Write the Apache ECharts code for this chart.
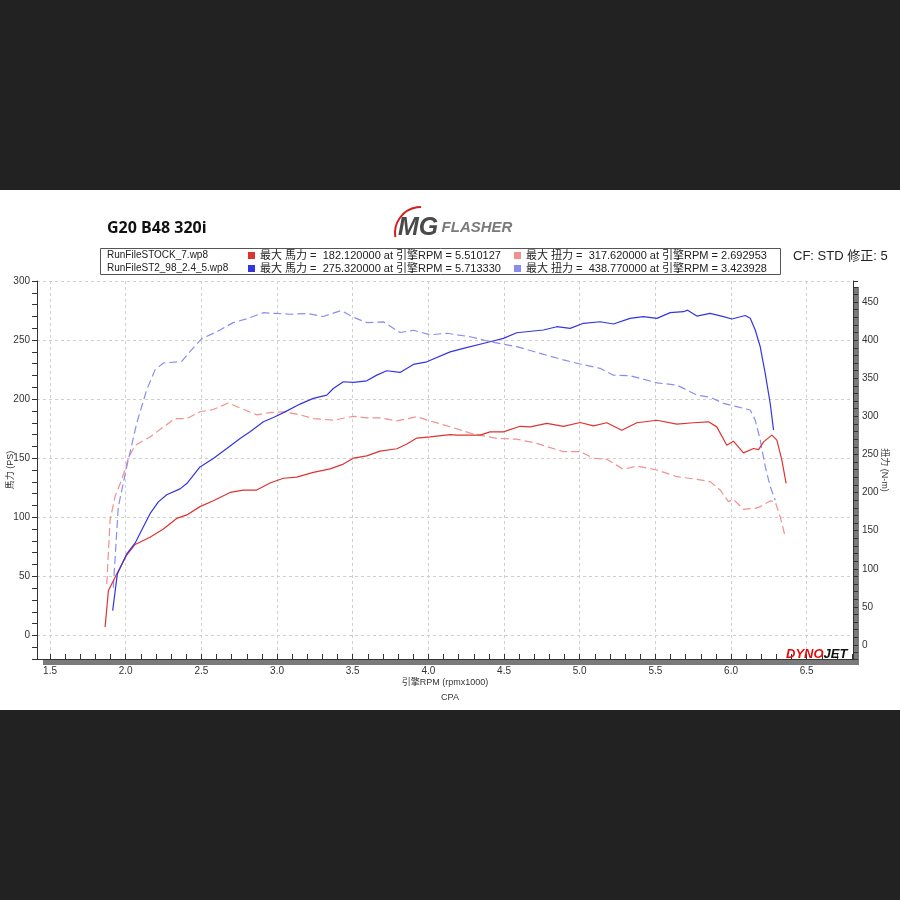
<!DOCTYPE html>
<html><head><meta charset="utf-8">
<script src="https://cdn.jsdelivr.net/npm/echarts/dist/echarts.min.js"></script>
<style>html,body{margin:0;padding:0;background:#222;}#c{width:900px;height:900px;}</style>
</head><body><div id="c"></div>
<script>
// ---- data (rpm x1000, value) ----
const stockHp = [[1.864,7],[1.886,38],[1.941,52],[2.007,68],[2.062,77],[2.161,83],[2.249,90],[2.337,99],[2.404,102],[2.491,109],[2.579,114],[2.69,121],[2.778,123],[2.866,123],[2.954,129],[3.042,133],[3.13,134],[3.24,138],[3.351,141],[3.438,145],[3.505,150],[3.593,152],[3.681,156],[3.792,158],[3.858,162],[3.924,167],[4.011,168],[4.144,170],[4.188,169.5],[4.342,169.5],[4.408,172.3],[4.496,172.3],[4.606,177],[4.673,176.5],[4.783,179.4],[4.893,177],[5.003,180.2],[5.091,177.4],[5.179,180],[5.278,173.7],[5.378,180],[5.51,182.1],[5.642,178.8],[5.752,180],[5.851,180.8],[5.906,176.5],[5.972,161],[6.016,164.4],[6.082,154.5],[6.149,158.2],[6.182,157.3],[6.215,163.8],[6.27,169.5],[6.303,165.3],[6.336,148.3],[6.364,128.6]];
const stockTq = [[1.875,80],[1.897,164],[1.93,195],[1.974,217],[2.018,245],[2.062,262],[2.161,273],[2.249,286],[2.326,297],[2.404,297],[2.491,306],[2.579,309],[2.678,317.6],[2.756,311],[2.866,302],[2.954,305],[3.042,306],[3.152,302],[3.24,297],[3.372,295],[3.505,300],[3.593,298],[3.681,298],[3.792,294],[3.924,299.5],[4.011,294],[4.144,286.4],[4.298,276.8],[4.452,271.2],[4.584,270],[4.716,264.6],[4.893,253.6],[5.003,253.6],[5.091,245],[5.179,243.6],[5.289,230.5],[5.378,234.8],[5.51,229.6],[5.642,220.8],[5.774,217.4],[5.862,214.3],[5.928,203.4],[5.983,188],[6.016,191.2],[6.082,178],[6.16,179.3],[6.193,181.5],[6.259,189],[6.292,188],[6.325,168],[6.358,142]];
const tunedHp = [[1.914,21],[1.945,52],[2.007,69],[2.062,78],[2.117,92],[2.161,103],[2.216,113],[2.271,119],[2.359,124],[2.404,128.5],[2.491,142.6],[2.579,149.7],[2.668,158.2],[2.756,166.7],[2.822,172.3],[2.91,180.8],[2.976,184.5],[3.053,189.2],[3.152,195.8],[3.24,200.6],[3.329,203.4],[3.372,209],[3.438,214.7],[3.505,214.1],[3.593,215.5],[3.659,220.3],[3.725,224],[3.813,222.6],[3.901,229.4],[3.99,231.6],[4.144,240],[4.232,243],[4.408,248.6],[4.496,251.4],[4.584,256.2],[4.76,258.5],[4.849,261.3],[4.937,259.9],[5.025,264.2],[5.135,265.5],[5.223,263.6],[5.333,268.4],[5.421,269.8],[5.51,268.4],[5.598,273.2],[5.686,274],[5.713,275.3],[5.774,270.3],[5.862,272.6],[5.95,269.8],[6.006,267.8],[6.094,270.8],[6.127,268.4],[6.16,258.5],[6.193,244.3],[6.226,221.8],[6.259,196.3],[6.281,173.7]];
const tunedTq = [[1.918,75],[1.951,181],[2.007,234],[2.073,291],[2.139,335],[2.194,361],[2.249,370],[2.37,372],[2.425,385],[2.503,402],[2.602,411],[2.711,423],[2.8,428],[2.91,436],[2.998,435],[3.086,434],[3.197,435],[3.306,431],[3.424,438.8],[3.505,430],[3.593,423],[3.703,424],[3.813,410],[3.901,413],[4.011,407],[4.122,409],[4.276,404.5],[4.408,398],[4.584,391.4],[4.738,382.7],[4.893,374],[5.003,368.7],[5.135,363],[5.223,354],[5.333,353.3],[5.51,344],[5.642,341],[5.774,328],[5.862,325],[5.95,317],[6.038,312.7],[6.127,308.3],[6.16,295],[6.193,269],[6.226,234],[6.259,208],[6.292,190]];

const seriesNames = ['STOCK 馬力', 'STOCK 扭力', 'ST2 馬力', 'ST2 扭力'];
const fileNames = ['RunFileSTOCK_7.wp8', 'RunFileST2_98_2.4_5.wp8'];
const legendTexts = [
  '最大 馬力 =  182.120000 at 引擎RPM = 5.510127',
  '最大 扭力 =  317.620000 at 引擎RPM = 2.692953',
  '最大 馬力 =  275.320000 at 引擎RPM = 5.713330',
  '最大 扭力 =  438.770000 at 引擎RPM = 3.423928'
];
const titleText = 'G20 B48 320i';
const cfText = 'CF: STD 修正: 5';
const xName = '引擎RPM (rpmx1000)';
const hpName = '馬力 (PS)';
const tqName = '扭力 (N-m)';
const subText = 'CPA';

const xMin = 1.414, xMax = 6.806;
const hpMin = -20, hpMax = 300;
const tqMin = -18.4, tqMax = 477.6;

const FONT = "'Liberation Sans','Noto Sans CJK TC',sans-serif";
const colors = ['#dd3333', '#f09090', '#3535dd', '#8c8cee'];

function onStep(v, step) { return Math.abs(v / step - Math.round(v / step)) < 1e-6; }

const axisText = { color: '#333', fontSize: 10, fontFamily: FONT };
const gridLine = { show: true, lineStyle: { type: [3, 3], color: '#cfcfcf', width: 1 } };

const chart = echarts.init(document.getElementById('c'), null, { renderer: 'canvas' });

const legendMap = {};
seriesNames.forEach((n, i) => legendMap[n] = legendTexts[i]);

function mkLegend(left, names) {
  return {
    left: left, top: 250, orient: 'vertical', icon: 'rect',
    itemWidth: 7, itemHeight: 7, itemGap: 2, padding: 0,
    selectedMode: false, data: names,
    formatter: n => legendMap[n],
    textStyle: { fontSize: 11, lineHeight: 11, color: '#222', fontFamily: FONT, padding: 0 }
  };
}

const option = {
  backgroundColor: '#222',
  animation: false,
  graphic: [
    { type: 'rect', z: -100, shape: { x: 0, y: 190, width: 900, height: 520 }, style: { fill: '#ffffff' } },
    { type: 'text', z: 100, x: 107, y: 228, style: { text: titleText, fill: '#111', font: "bold 16px 'Open Sans', sans-serif", verticalAlign: 'middle' } },
    { type: 'arc', z: 100, shape: { cx: 421, cy: 233, r: 26, startAngle: Math.PI * 0.95, endAngle: Math.PI * 1.5 }, style: { stroke: '#d42020', lineWidth: 2, fill: null } },
    { type: 'text', z: 100, x: 398, y: 228, style: {
        text: '{m|MG} {f|FLASHER}', verticalAlign: 'middle',
        rich: {
          m: { fontSize: 25, fontWeight: 900, fontStyle: 'italic', fill: '#4a4a4a', color: '#4a4a4a', fontFamily: "'Liberation Sans', sans-serif" },
          f: { fontSize: 15, fontWeight: 'bold', fontStyle: 'italic', fill: '#7a7a7a', color: '#7a7a7a', fontFamily: "'Liberation Sans', sans-serif" }
        } } },
    { type: 'rect', z: 100, shape: { x: 100.5, y: 248.5, width: 680, height: 26 }, style: { fill: null, stroke: '#555', lineWidth: 1 } },
    { type: 'text', z: 100, x: 107, y: 255, style: { text: fileNames[0], fill: '#222', font: "10px " + FONT, verticalAlign: 'middle' } },
    { type: 'text', z: 100, x: 107, y: 268, style: { text: fileNames[1], fill: '#222', font: "10px " + FONT, verticalAlign: 'middle' } },
    { type: 'text', z: 100, x: 793, y: 256, style: { text: cfText, fill: '#222', font: "13px " + FONT, verticalAlign: 'middle' } },
    { type: 'text', z: 100, x: 450, y: 698, style: { text: subText, fill: '#333', font: "9px " + FONT, align: 'center', verticalAlign: 'middle' } },
    { type: 'text', z: 100, x: 786, y: 654, style: {
        text: '{a|DYNO}{b|JET}', verticalAlign: 'middle',
        rich: {
          a: { fontSize: 13, fontWeight: 900, fontStyle: 'italic', fill: '#e01010', color: '#e01010', fontFamily: "'Liberation Sans', sans-serif" },
          b: { fontSize: 13, fontWeight: 900, fontStyle: 'italic', fill: '#111', color: '#111', fontFamily: "'Liberation Sans', sans-serif" }
        } } }
  ],
  grid: {
    left: 37, right: 47, top: 281, bottom: 241, show: true,
    containLabel: false, outerBoundsMode: 'none',
    backgroundColor: '#ffffff', borderWidth: 0,
    shadowColor: '#7a7a7a', shadowOffsetX: 6, shadowOffsetY: 6, shadowBlur: 0
  },
  legend: [mkLegend(248, [seriesNames[0], seriesNames[2]]), mkLegend(514, [seriesNames[1], seriesNames[3]])],
  xAxis: [
    {
      type: 'value', min: xMin, max: xMax, minInterval: 0.5, maxInterval: 0.5, position: 'bottom',
      axisLine: { show: true, onZero: false, lineStyle: { color: '#333' } },
      axisTick: { show: false },
      axisLabel: Object.assign({ margin: 7, formatter: v => onStep(v, 0.5) ? v.toFixed(1) : '' }, axisText),
      splitLine: gridLine,
      name: xName, nameLocation: 'middle', nameGap: 19, nameMoveOverlap: false,
      nameTextStyle: { color: '#333', fontSize: 9, fontFamily: FONT }
    },
    {
      type: 'value', min: xMin, max: xMax, minInterval: 0.1, maxInterval: 0.1, position: 'bottom',
      axisLine: { show: false, onZero: false }, axisLabel: { show: false }, splitLine: { show: false },
      axisTick: { show: true, inside: true, length: 5, lineStyle: { color: '#333' } }
    }
  ],
  yAxis: [
    {
      type: 'value', position: 'left', min: hpMin, max: hpMax, minInterval: 50, maxInterval: 50,
      axisLine: { show: true, onZero: false, lineStyle: { color: '#333' } },
      axisTick: { show: false },
      axisLabel: Object.assign({ margin: 7, formatter: v => onStep(v, 50) ? String(Math.round(v)) : '' }, axisText),
      splitLine: gridLine,
      name: hpName, nameLocation: 'middle', nameGap: 22, nameRotate: 90, nameMoveOverlap: false,
      nameTextStyle: { color: '#333', fontSize: 9, fontFamily: FONT }
    },
    {
      type: 'value', position: 'right', min: tqMin, max: tqMax, minInterval: 50, maxInterval: 50,
      axisLine: { show: true, onZero: false, lineStyle: { color: '#333' } },
      axisTick: { show: false },
      axisLabel: Object.assign({ margin: 9, formatter: v => onStep(v, 50) ? String(Math.round(v)) : '' }, axisText),
      splitLine: { show: false },
      name: tqName, nameLocation: 'middle', nameGap: 27, nameRotate: -90, nameMoveOverlap: false,
      nameTextStyle: { color: '#333', fontSize: 9, fontFamily: FONT }
    },
    {
      type: 'value', position: 'left', min: hpMin, max: hpMax, minInterval: 10, maxInterval: 10,
      axisLine: { show: false, onZero: false }, axisLabel: { show: false }, splitLine: { show: false },
      axisTick: { show: true, length: 5, lineStyle: { color: '#333' } }
    },
    {
      type: 'value', position: 'right', min: tqMin, max: tqMax, minInterval: 10, maxInterval: 10,
      axisLine: { show: false, onZero: false }, axisLabel: { show: false }, splitLine: { show: false },
      axisTick: { show: true, length: 5, lineStyle: { color: '#333' } }
    }
  ],
  series: [
    { name: seriesNames[0], type: 'line', xAxisIndex: 0, yAxisIndex: 0, data: stockHp, showSymbol: false, symbol: 'none',
      itemStyle: { color: colors[0] }, lineStyle: { color: colors[0], width: 1.2 }, z: 4 },
    { name: seriesNames[1], type: 'line', xAxisIndex: 0, yAxisIndex: 1, data: stockTq, showSymbol: false, symbol: 'none',
      itemStyle: { color: colors[1] }, lineStyle: { color: colors[1], width: 1.2, type: [8, 4] }, z: 3 },
    { name: seriesNames[2], type: 'line', xAxisIndex: 0, yAxisIndex: 0, data: tunedHp, showSymbol: false, symbol: 'none',
      itemStyle: { color: colors[2] }, lineStyle: { color: colors[2], width: 1.2 }, z: 4 },
    { name: seriesNames[3], type: 'line', xAxisIndex: 0, yAxisIndex: 1, data: tunedTq, showSymbol: false, symbol: 'none',
      itemStyle: { color: colors[3] }, lineStyle: { color: colors[3], width: 1.2, type: [8, 4] }, z: 3 }
  ]
};
chart.setOption(option);
</script></body></html>
